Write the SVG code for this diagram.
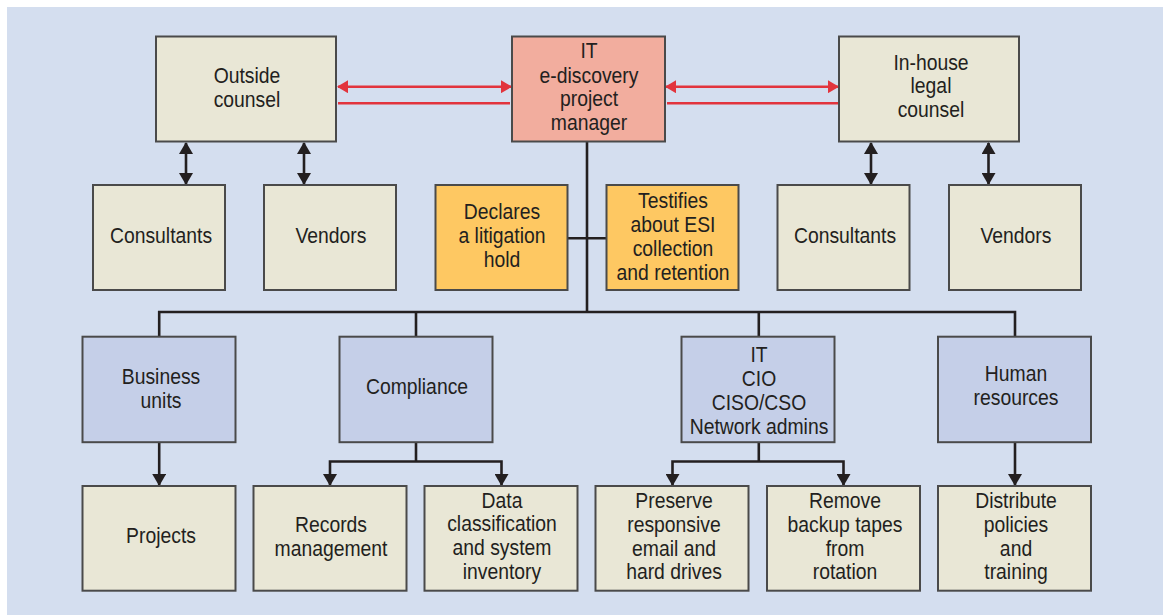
<svg xmlns="http://www.w3.org/2000/svg" width="1163" height="615" viewBox="0 0 1163 615">
<style>
.bg{fill:#d4deef}
.box{stroke:#4a4a4a;stroke-width:2}
.beige{fill:#e9e7d6}
.pm{fill:#f2ad9e}
.org{fill:#fec862}
.blu{fill:#c5cfe8}
.ln{fill:none;stroke:#231f20;stroke-width:2.6}
.red{fill:none;stroke:#e2343d;stroke-width:2.6}
text{font-family:"Liberation Sans",Arial,sans-serif;font-size:21.5px;fill:#231f20;text-anchor:middle}
</style>
<defs>
<marker id="ab" viewBox="0 0 12 14" refX="11" refY="7" markerWidth="12" markerHeight="14" markerUnits="userSpaceOnUse" orient="auto-start-reverse"><path d="M0,0 L12,7 L0,14 z" fill="#231f20"/></marker>
<marker id="ar" viewBox="0 0 11 13" refX="10" refY="6.5" markerWidth="11" markerHeight="13" markerUnits="userSpaceOnUse" orient="auto-start-reverse"><path d="M0,0 L11,6.5 L0,13 z" fill="#e2343d"/></marker>
</defs>
<rect class="bg" x="7" y="7" width="1156" height="608"/>
<g id="connectors">
<line class="red" x1="338" y1="86.7" x2="511" y2="86.7" marker-start="url(#ar)" marker-end="url(#ar)"/>
<line class="red" x1="338" y1="103.3" x2="510" y2="103.3"/>
<line class="red" x1="666" y1="86.7" x2="838" y2="86.7" marker-start="url(#ar)" marker-end="url(#ar)"/>
<line class="red" x1="667" y1="103.3" x2="838" y2="103.3"/>
<line class="ln" x1="186" y1="143" x2="186" y2="184" marker-start="url(#ab)" marker-end="url(#ab)"/>
<line class="ln" x1="304" y1="143" x2="304" y2="184" marker-start="url(#ab)" marker-end="url(#ab)"/>
<line class="ln" x1="871" y1="143" x2="871" y2="184" marker-start="url(#ab)" marker-end="url(#ab)"/>
<line class="ln" x1="988.5" y1="143" x2="988.5" y2="184" marker-start="url(#ab)" marker-end="url(#ab)"/>
<line class="ln" x1="587" y1="142" x2="587" y2="312"/>
<line class="ln" x1="567" y1="238.3" x2="606" y2="238.3"/>
<polyline class="ln" points="159.2,336.7 159.2,312 1015,312 1015,336.7"/>
<line class="ln" x1="416" y1="312" x2="416" y2="336.7"/>
<line class="ln" x1="758.8" y1="312" x2="758.8" y2="336.7"/>
<line class="ln" x1="159.2" y1="442.3" x2="159.2" y2="485" marker-end="url(#ab)"/>
<line class="ln" x1="1015" y1="442.3" x2="1015" y2="485" marker-end="url(#ab)"/>
<line class="ln" x1="416" y1="442.3" x2="416" y2="461.5"/>
<polyline class="ln" points="330,485 330,461.5 501.5,461.5 501.5,485" marker-start="url(#ab)" marker-end="url(#ab)"/>
<line class="ln" x1="758.8" y1="442.3" x2="758.8" y2="461.5"/>
<polyline class="ln" points="672.5,485 672.5,461.5 843.5,461.5 843.5,485" marker-start="url(#ab)" marker-end="url(#ab)"/>
</g>
<g id="outside-counsel"><rect class="box beige" x="156" y="36.5" width="180" height="105"/><g transform="translate(247 0) scale(0.9 1)"><text y="83.3">Outside</text><text y="106.7">counsel</text></g></g>
<g id="it-pm"><rect class="box pm" x="512" y="36.5" width="153" height="105"/><g transform="translate(589 0) scale(0.9 1)"><text y="58.3">IT</text><text y="82.7">e-discovery</text><text y="106">project</text><text y="130">manager</text></g></g>
<g id="inhouse-counsel"><rect class="box beige" x="839" y="36.5" width="180" height="105"/><g transform="translate(931 0) scale(0.9 1)"><text y="70">In-house</text><text y="93.5">legal</text><text y="117.3">counsel</text></g></g>
<g id="consultants-left"><rect class="box beige" x="93" y="185" width="132" height="105"/><g transform="translate(161 0) scale(0.9 1)"><text y="242.7">Consultants</text></g></g>
<g id="vendors-left"><rect class="box beige" x="264" y="185" width="132" height="105"/><g transform="translate(331 0) scale(0.9 1)"><text y="242.7">Vendors</text></g></g>
<g id="declares"><rect class="box org" x="435.5" y="185" width="132" height="105"/><g transform="translate(502 0) scale(0.9 1)"><text y="219.3">Declares</text><text y="243.3">a litigation</text><text y="266.7">hold</text></g></g>
<g id="testifies"><rect class="box org" x="606.5" y="185" width="132" height="105"/><g transform="translate(673 0) scale(0.9 1)"><text y="208.3">Testifies</text><text y="231.7">about ESI</text><text y="256">collection</text><text y="280">and retention</text></g></g>
<g id="consultants-right"><rect class="box beige" x="777.5" y="185" width="132" height="105"/><g transform="translate(845 0) scale(0.9 1)"><text y="242.7">Consultants</text></g></g>
<g id="vendors-right"><rect class="box beige" x="949" y="185" width="132" height="105"/><g transform="translate(1016 0) scale(0.9 1)"><text y="242.7">Vendors</text></g></g>
<g id="business-units"><rect class="box blu" x="82.5" y="336.7" width="153" height="105.5"/><g transform="translate(161 0) scale(0.9 1)"><text y="384">Business</text><text y="407.7">units</text></g></g>
<g id="compliance"><rect class="box blu" x="339.5" y="336.7" width="153" height="105.5"/><g transform="translate(417 0) scale(0.9 1)"><text y="394.3">Compliance</text></g></g>
<g id="it-cio"><rect class="box blu" x="681.5" y="336.7" width="153" height="105.5"/><g transform="translate(759 0) scale(0.9 1)"><text y="362.3">IT</text><text y="386">CIO</text><text y="410">CISO/CSO</text><text y="434">Network admins</text></g></g>
<g id="human-resources"><rect class="box blu" x="938" y="336.7" width="153" height="105.5"/><g transform="translate(1016 0) scale(0.9 1)"><text y="380.7">Human</text><text y="405">resources</text></g></g>
<g id="projects"><rect class="box beige" x="82.5" y="486" width="153" height="104.7"/><g transform="translate(161 0) scale(0.9 1)"><text y="542.7">Projects</text></g></g>
<g id="records"><rect class="box beige" x="253.5" y="486" width="153" height="104.7"/><g transform="translate(331 0) scale(0.9 1)"><text y="531.7">Records</text><text y="555.7">management</text></g></g>
<g id="data-classification"><rect class="box beige" x="424.5" y="486" width="153" height="104.7"/><g transform="translate(502 0) scale(0.9 1)"><text y="507.7">Data</text><text y="531.3">classification</text><text y="555.3">and system</text><text y="579.3">inventory</text></g></g>
<g id="preserve"><rect class="box beige" x="595.5" y="486" width="153" height="104.7"/><g transform="translate(674 0) scale(0.9 1)"><text y="508.3">Preserve</text><text y="532">responsive</text><text y="555.7">email and</text><text y="579.3">hard drives</text></g></g>
<g id="remove"><rect class="box beige" x="767" y="486" width="153" height="104.7"/><g transform="translate(845 0) scale(0.9 1)"><text y="508.3">Remove</text><text y="532">backup tapes</text><text y="555.7">from</text><text y="579.3">rotation</text></g></g>
<g id="distribute"><rect class="box beige" x="938" y="486" width="153" height="104.7"/><g transform="translate(1016 0) scale(0.9 1)"><text y="508.3">Distribute</text><text y="532">policies</text><text y="555.7">and</text><text y="579.3">training</text></g></g>
</svg>
